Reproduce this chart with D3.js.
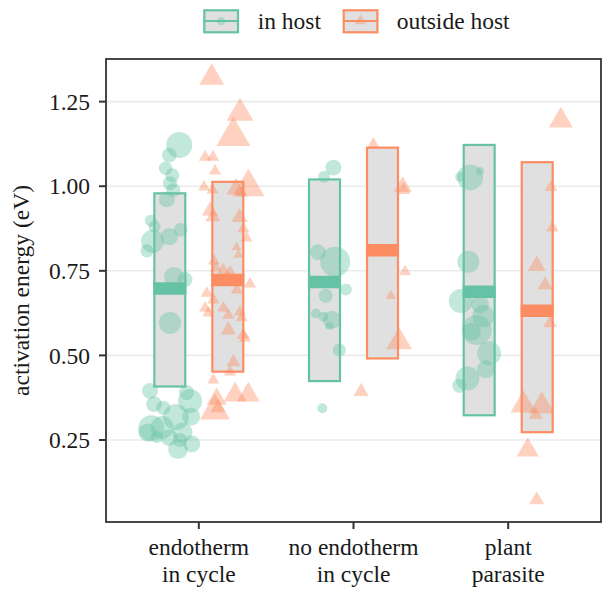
<!DOCTYPE html>
<html>
<head>
<meta charset="utf-8">
<script src="https://cdn.jsdelivr.net/npm/d3@7/dist/d3.min.js"></script>
<style>
  html, body { margin: 0; padding: 0; background: #fff; }
  svg { display: block; }
  text { font-family: "Liberation Serif", "DejaVu Serif", serif; fill: #1a1a1a; }
</style>
</head>
<body>
<svg id="chart" width="602" height="591"></svg>
<script>
// ---------------- data ----------------
const categories = [["endotherm", "in cycle"], ["no endotherm", "in cycle"], ["plant", "parasite"]];
const groups = ["in host", "outside host"];
const groupColors = ["#66c2a5", "#fc8d62"];
const yTicks = [0.25, 0.50, 0.75, 1.00, 1.25];
const yTickLabels = ["0.25", "0.50", "0.75", "1.00", "1.25"];

// summary boxes per category (low, mean, high)
const inHostLow  = [0.408, 0.424, 0.323];
const inHostMean = [0.698, 0.717, 0.688];
const inHostHigh = [0.979, 1.020, 1.122];
const outLow  = [0.452, 0.491, 0.273];
const outMean = [0.723, 0.811, 0.632];
const outHigh = [1.013, 1.114, 1.071];

// individual estimates: [category index, jitter, activation energy, weight]
const inHostPoints = [
  [0, 0.061, 1.122, 75], [0, -0.003, 1.092, 24], [0, -0.027, 1.053, 20], [0, 0.016, 1.032, 22],
  [0, 0.001, 1.009, 22], [0, 0.023, 0.989, 22], [0, -0.020, 0.961, 28], [0, -0.123, 0.898, 16],
  [0, -0.098, 0.880, 16], [0, -0.111, 0.837, 59], [0, -0.147, 0.809, 19], [0, -0.003, 0.851, 34],
  [0, 0.070, 0.871, 21], [0, 0.027, 0.732, 44], [0, 0.098, 0.724, 25], [0, 0.001, 0.596, 54],
  [0, -0.128, 0.395, 28], [0, 0.108, 0.390, 25], [0, 0.131, 0.365, 64], [0, -0.102, 0.356, 28],
  [0, -0.042, 0.345, 22], [0, 0.138, 0.319, 36], [0, 0.040, 0.318, 75], [0, -0.120, 0.285, 75],
  [0, -0.144, 0.272, 36], [0, -0.049, 0.287, 59], [0, 0.082, 0.272, 44], [0, -0.005, 0.257, 32],
  [0, 0.053, 0.223, 44], [0, 0.142, 0.238, 32], [0, 0.066, 0.250, 22], [0, -0.083, 0.259, 16],
  [1, 0.058, 1.055, 28], [1, -0.003, 1.028, 16], [1, -0.043, 0.805, 28], [1, 0.069, 0.777, 100],
  [1, 0.138, 0.695, 16], [1, 0.008, 0.676, 22], [1, -0.056, 0.624, 11], [1, -0.007, 0.614, 11],
  [1, 0.047, 0.605, 36], [1, 0.032, 0.587, 7], [1, 0.096, 0.516, 19], [1, -0.014, 0.344, 11],
  [2, -0.059, 1.026, 75], [2, -0.123, 1.028, 11], [2, 0.006, 1.045, 7], [2, -0.070, 0.777, 54],
  [2, -0.119, 0.661, 64], [2, 0.006, 0.651, 36], [2, 0.027, 0.616, 54], [2, -0.016, 0.575, 100],
  [2, -0.048, 0.570, 36], [2, 0.064, 0.506, 64], [2, 0.043, 0.459, 36], [2, -0.076, 0.432, 64],
  [2, -0.128, 0.410, 22]
];
const outsidePoints = [
  [0, -0.104, 1.321, 38], [0, 0.079, 1.216, 44], [0, 0.036, 1.148, 71], [0, -0.147, 1.086, 10],
  [0, -0.096, 1.086, 10], [0, -0.083, 1.045, 9], [0, 0.133, 0.998, 63], [0, -0.154, 0.998, 9],
  [0, -0.099, 0.989, 9], [0, 0.053, 0.992, 22], [0, 0.089, 0.980, 9], [0, -0.115, 0.927, 16],
  [0, -0.096, 0.909, 14], [0, 0.076, 0.908, 16], [0, 0.101, 0.874, 9], [0, 0.120, 0.847, 9],
  [0, 0.056, 0.819, 6], [0, 0.068, 0.797, 6], [0, -0.089, 0.779, 9], [0, -0.076, 0.758, 9],
  [0, -0.029, 0.752, 10], [0, 0.014, 0.746, 10], [0, 0.144, 0.711, 9], [0, -0.136, 0.684, 9],
  [0, 0.058, 0.693, 9], [0, -0.093, 0.664, 9], [0, -0.147, 0.640, 9], [0, -0.126, 0.625, 9],
  [0, -0.029, 0.640, 9], [0, 0.003, 0.619, 9], [0, 0.079, 0.628, 9], [0, 0.090, 0.611, 9],
  [0, 0.003, 0.575, 14], [0, 0.100, 0.560, 10], [0, 0.111, 0.551, 9], [0, 0.036, 0.480, 12],
  [0, 0.014, 0.451, 9], [0, -0.094, 0.427, 9], [0, -0.072, 0.371, 24], [0, -0.083, 0.336, 55],
  [0, 0.047, 0.383, 32], [0, 0.133, 0.383, 32], [0, -0.063, 0.345, 14],
  [1, -0.059, 1.125, 9], [1, 0.131, 0.999, 20], [1, 0.136, 0.989, 12], [1, 0.146, 0.747, 9],
  [1, 0.054, 0.676, 7], [1, 0.107, 0.540, 41], [1, -0.138, 0.393, 14],
  [2, 0.153, 1.194, 35], [2, 0.088, 0.997, 10], [2, 0.098, 0.877, 10], [2, -0.003, 0.765, 20],
  [2, 0.051, 0.708, 14], [2, 0.083, 0.595, 12], [2, -0.089, 0.353, 41], [2, 0.030, 0.350, 41],
  [2, -0.009, 0.324, 12], [2, -0.061, 0.220, 30], [2, -0.003, 0.073, 14]
];

// ---------------- layout ----------------
const svg = d3.select("#chart");
const panel = {left: 106, right: 601, top: 59, bottom: 522};
const x = d3.scaleLinear().domain([0.4, 3.6]).range([panel.left, panel.right]);
const y = d3.scaleLinear().domain([0.0076, 1.376]).range([panel.bottom, panel.top]);
const r = d3.scaleSqrt().domain([0, 100]).range([0, 15]);
const dodge = [-0.1875, 0.1875];
const boxW = 0.2;
const unit = x(1) - x(0);

// grid
svg.append("g").selectAll("line").data(yTicks).join("line")
  .attr("x1", panel.left).attr("x2", panel.right)
  .attr("y1", d => y(d)).attr("y2", d => y(d))
  .attr("stroke", "#ebebeb").attr("stroke-width", 1.6);

// boxes
const boxes = [];
for (let i = 0; i < categories.length; i++) {
  boxes.push({g: 0, c: i, lo: inHostLow[i], mid: inHostMean[i], hi: inHostHigh[i]});
  boxes.push({g: 1, c: i, lo: outLow[i], mid: outMean[i], hi: outHigh[i]});
}
const bx = d => x(d.c + 1 + dodge[d.g]);
const gb = svg.append("g");
gb.selectAll("rect").data(boxes).join("rect")
  .attr("x", d => bx(d) - boxW * unit / 2)
  .attr("width", boxW * unit)
  .attr("y", d => y(d.hi))
  .attr("height", d => y(d.lo) - y(d.hi))
  .attr("fill", "#e0e0e0")
  .attr("stroke", d => groupColors[d.g])
  .attr("stroke-width", 2.2);
gb.selectAll("line").data(boxes).join("line")
  .attr("x1", d => bx(d) - boxW * unit / 2 - 1.1)
  .attr("x2", d => bx(d) + boxW * unit / 2 + 1.1)
  .attr("y1", d => y(d.mid)).attr("y2", d => y(d.mid))
  .attr("stroke", d => groupColors[d.g])
  .attr("stroke-width", 12.5);

// points
const gp = svg.append("g");
gp.selectAll("circle").data(inHostPoints).join("circle")
  .attr("cx", d => x(d[0] + 1 + dodge[0] + d[1]))
  .attr("cy", d => y(d[2]))
  .attr("r", d => r(d[3]))
  .attr("fill", groupColors[0])
  .attr("fill-opacity", 0.4);
gp.selectAll("path").data(outsidePoints).join("path")
  .attr("transform", d => `translate(${x(d[0] + 1 + dodge[1] + d[1])},${y(d[2])})`)
  .attr("d", d => d3.symbol().type(d3.symbolTriangle).size(Math.PI * r(d[3]) ** 2)())
  .attr("fill", groupColors[1])
  .attr("fill-opacity", 0.4);

// panel border
svg.append("rect")
  .attr("x", panel.left).attr("y", panel.top)
  .attr("width", panel.right - panel.left).attr("height", panel.bottom - panel.top)
  .attr("fill", "none").attr("stroke", "#333").attr("stroke-width", 1.8);

// y axis
const ya = svg.append("g");
ya.selectAll("line").data(yTicks).join("line")
  .attr("x1", panel.left - 7).attr("x2", panel.left)
  .attr("y1", d => y(d)).attr("y2", d => y(d))
  .attr("stroke", "#333").attr("stroke-width", 2);
ya.selectAll("text").data(yTicks).join("text")
  .attr("x", panel.left - 16).attr("y", d => y(d))
  .attr("dy", "0.35em")
  .attr("text-anchor", "end")
  .attr("font-size", 23.5)
  .text((d, i) => yTickLabels[i]);

svg.append("text")
  .attr("transform", `translate(29,${(panel.top + panel.bottom) / 2}) rotate(-90)`)
  .attr("text-anchor", "middle")
  .attr("font-size", 23.5)
  .text("activation energy (eV)");

// x axis
const xa = svg.append("g");
xa.selectAll("line").data(categories).join("line")
  .attr("x1", (d, i) => x(i + 1)).attr("x2", (d, i) => x(i + 1))
  .attr("y1", panel.bottom).attr("y2", panel.bottom + 7)
  .attr("stroke", "#333").attr("stroke-width", 2);
const xt = xa.selectAll("text").data(categories).join("text")
  .attr("text-anchor", "middle")
  .attr("font-size", 23.5);
xt.selectAll("tspan").data((d, i) => d.map((s, k) => ({s, k, i}))).join("tspan")
  .attr("x", d => x(d.i + 1))
  .attr("y", d => 555 + d.k * 26.5)
  .text(d => d.s);

// legend
const lg = svg.append("g");
const keyX = [203.3, 342.7], textX = [257.7, 396.7];
groups.forEach((g, i) => {
  const k = lg.append("g").attr("transform", `translate(${keyX[i]},9.3)`);
  k.append("rect").attr("x", 1).attr("y", 1).attr("width", 33.7).attr("height", 22)
    .attr("fill", "#e0e0e0").attr("stroke", groupColors[i]).attr("stroke-width", 2.2);
  k.append("line").attr("x1", 1).attr("x2", 34.7).attr("y1", 11.8).attr("y2", 11.8)
    .attr("stroke", groupColors[i]).attr("stroke-width", 2);
  if (i === 0) {
    k.append("circle").attr("cx", 17.8).attr("cy", 11.8).attr("r", 4.2)
      .attr("fill", groupColors[0]).attr("fill-opacity", 0.4);
  } else {
    k.append("path").attr("transform", "translate(17.8,11.8)")
      .attr("d", d3.symbol().type(d3.symbolTriangle).size(Math.PI * 4.2 * 4.2)())
      .attr("fill", groupColors[1]).attr("fill-opacity", 0.4);
  }
  lg.append("text").attr("x", textX[i]).attr("y", 28.5)
    .attr("font-size", 23.5).text(g);
});
</script>
</body>
</html>
